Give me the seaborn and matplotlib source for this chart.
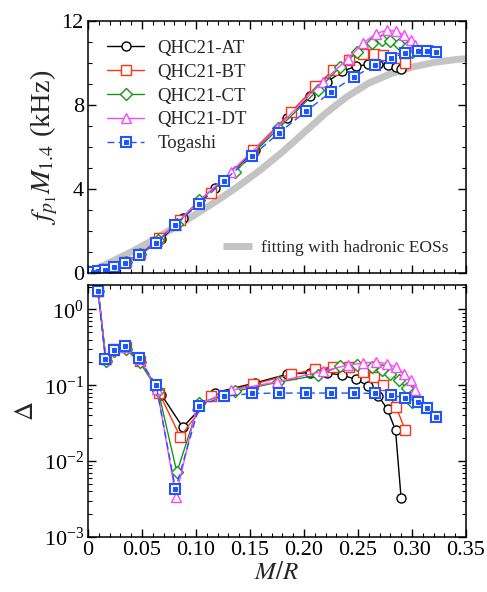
import matplotlib
matplotlib.use('Agg')
import matplotlib.pyplot as plt
from matplotlib.ticker import MultipleLocator, LogLocator, NullFormatter
import seaborn as sns

# --- data ---
# QHC21-AT
at_x = [0.0046, 0.0095, 0.0165, 0.0245, 0.035, 0.048, 0.068, 0.0878, 0.1177, 0.1544,
        0.1846, 0.2053, 0.221, 0.2355, 0.2481, 0.2595, 0.2688, 0.2774, 0.2848, 0.290]
at_f = [0.05, 0.10, 0.17, 0.30, 0.50, 0.88, 1.60, 2.64, 4.05, 5.84,
        7.40, 8.41, 9.08, 9.60, 9.84, 9.93, 9.97, 9.89, 9.81, 9.70]
at_d = [1.73, 0.22, 0.29, 0.32, 0.21, 0.075, 0.028, 0.080, 0.107,
        0.140, 0.147, 0.146, 0.136, 0.120, 0.098, 0.073, 0.048, 0.0255, 0.00325]

# QHC21-BT
bt_x = [0.0046, 0.0095, 0.0165, 0.0245, 0.035, 0.048, 0.0662, 0.0854, 0.1137, 0.153,
        0.188, 0.2105, 0.2271, 0.242, 0.2549, 0.2648, 0.2734, 0.2855, 0.2937]
bt_f = [0.05, 0.10, 0.17, 0.30, 0.52, 0.90, 1.65, 2.51, 3.83, 5.84,
        7.65, 8.89, 9.65, 10.15, 10.41, 10.45, 10.40, 10.25, 10.02]
bt_d = [1.73, 0.225, 0.30, 0.32, 0.21, 0.078, 0.0209, 0.072, 0.103,
        0.139, 0.162, 0.175, 0.172, 0.150, 0.130, 0.102, 0.051, 0.026]

# QHC21-CT
ct_x = [0.0046, 0.0095, 0.0165, 0.0245, 0.035, 0.048, 0.065, 0.0823, 0.1029, 0.136,
        0.1763, 0.2127, 0.2333, 0.2495, 0.2626, 0.2719, 0.2795, 0.2879, 0.2956, 0.3001]
ct_f = [0.04, 0.09, 0.16, 0.30, 0.50, 0.90, 1.55, 2.35, 3.46, 4.81,
        6.88, 8.70, 9.81, 10.52, 10.96, 11.08, 11.05, 10.92, 10.76, 10.50]
ct_d = [1.75, 0.21, 0.28, 0.30, 0.20, 0.085, 0.0071, 0.058, 0.083,
        0.110, 0.136, 0.178, 0.184, 0.174, 0.158, 0.143, 0.116, 0.091, 0.060]

# QHC21-DT
dt_x = [0.0046, 0.0095, 0.0165, 0.0245, 0.035, 0.048, 0.064, 0.0814, 0.101, 0.1325,
        0.175, 0.2173, 0.2404, 0.2549, 0.267, 0.2765, 0.285, 0.2928, 0.299, 0.3033]
dt_f = [0.05, 0.10, 0.17, 0.30, 0.50, 0.90, 1.50, 2.30, 3.35, 4.81,
        6.90, 9.10, 10.19, 10.95, 11.40, 11.56, 11.52, 11.32, 11.08, 10.87]
dt_d = [1.73, 0.22, 0.29, 0.32, 0.22, 0.090, 0.0034, 0.055, 0.086,
        0.111, 0.153, 0.184, 0.197, 0.203, 0.193, 0.175, 0.143, 0.116, 0.086]

# Togashi
tg_x = [0.0046, 0.0093, 0.016, 0.024, 0.034, 0.047, 0.063, 0.081, 0.103, 0.126, 0.152,
        0.177, 0.202, 0.225, 0.246, 0.266, 0.281, 0.294, 0.306, 0.314, 0.322]
tg_f = [0.05, 0.10, 0.16, 0.29, 0.48, 0.84, 1.44, 2.29, 3.30, 4.40, 5.56,
        6.68, 7.70, 8.62, 9.33, 9.90, 10.25, 10.48, 10.57, 10.57, 10.52]
tg_d = [1.73, 0.225, 0.295, 0.327, 0.23, 0.101, 0.0043, 0.053, 0.072, 0.078,
        0.079, 0.079, 0.079, 0.079, 0.078, 0.074, 0.068, 0.060, 0.050, 0.038]

# fitting with hadronic EOSs
fit_x = [0.0, 0.02, 0.04, 0.06, 0.08, 0.10, 0.12, 0.14, 0.16, 0.18, 0.20,
         0.22, 0.24, 0.26, 0.28, 0.30, 0.32, 0.34, 0.35]
fit_f = [0.0, 0.50, 1.00, 1.56, 2.16, 2.80, 3.46, 4.16, 4.92, 5.76, 6.68,
         7.60, 8.40, 9.04, 9.48, 9.80, 10.02, 10.16, 10.20]

sns.set_theme(style='ticks')
plt.rcParams['font.family'] = ['Liberation Serif', 'DejaVu Serif']
plt.rcParams['mathtext.fontset'] = 'stix'
plt.rcParams['axes.linewidth'] = 1.1

fig = plt.figure(figsize=(4.87, 5.92), dpi=100)
ax1 = fig.add_axes([0.1807, 0.5389, 0.776, 0.4257])
ax2 = fig.add_axes([0.1807, 0.0929, 0.776, 0.4257])

styles = [
    ('QHC21-AT', at_x, at_f, at_d, dict(color='black', marker='o', ms=6.5)),
    ('QHC21-BT', bt_x, bt_f, bt_d, dict(color='#ff3311', marker='s', ms=6.8)),
    ('QHC21-CT', ct_x, ct_f, ct_d, dict(color='#119911', marker='D', ms=6.0)),
    ('QHC21-DT', dt_x, dt_f, dt_d, dict(color='#ff44ff', marker='^', ms=7.5)),
]

sns.lineplot(x=fit_x, y=fit_f, ax=ax1, color='#c4c4c4', lw=5, estimator=None,
             sort=False, label='fitting with hadronic EOSs', solid_capstyle='butt')
fit_line = ax1.get_lines()[-1]

handles = []
for name, x, f, d, st in styles:
    kw = dict(color=st['color'], marker=st['marker'], markersize=st['ms'],
              markerfacecolor='white', markeredgecolor=st['color'],
              markeredgewidth=1.0, lw=1.0, linestyle='-')
    sns.lineplot(x=x, y=f, ax=ax1, estimator=None, sort=False, **kw)
    handles.append(ax1.get_lines()[-1])
    sns.lineplot(x=x[1:], y=d, ax=ax2, estimator=None, sort=False, **kw)

# Togashi: open blue square with a filled centre, dashed line
blue = '#1f55ff'
for ax, yy, xx in [(ax1, tg_f, tg_x), (ax2, tg_d, tg_x[1:])]:
    sns.lineplot(x=xx, y=yy, ax=ax, estimator=None, sort=False, color=blue, lw=1.0,
                 linestyle=(0, (5, 3)), marker='s', markersize=7,
                 markerfacecolor='white', markeredgecolor=blue, markeredgewidth=1.5)
    if ax is ax1:
        tg_outer = ax.get_lines()[-1]
    sns.lineplot(x=xx, y=yy, ax=ax, estimator=None, sort=False, color=blue, lw=0,
                 marker='s', markersize=2.8, markerfacecolor=blue, markeredgecolor=blue)
    if ax is ax1:
        tg_inner = ax.get_lines()[-1]

for ax in (ax1, ax2):
    leg = ax.get_legend()
    if leg is not None:
        leg.remove()

leg1 = ax1.legend(handles + [(tg_outer, tg_inner)],
                  ['QHC21-AT', 'QHC21-BT', 'QHC21-CT', 'QHC21-DT', 'Togashi'],
                  loc='upper left', frameon=False, fontsize=13.5, handlelength=2.0,
                  labelspacing=0.36, borderaxespad=0.6, handletextpad=0.7)
ax1.add_artist(leg1)
ax1.legend([fit_line], ['fitting with hadronic EOSs'], loc='lower right',
           frameon=False, fontsize=12.5, handlelength=1.7, handletextpad=0.5,
           borderaxespad=0.6)

# axes formatting
ax1.set_xlim(0, 0.35)
ax1.set_ylim(0, 12)
ax1.xaxis.set_major_locator(MultipleLocator(0.05))
ax1.xaxis.set_minor_locator(MultipleLocator(0.01))
ax1.yaxis.set_major_locator(MultipleLocator(4))
ax1.yaxis.set_minor_locator(MultipleLocator(1))
ax1.tick_params(labelbottom=False)
ax1.set_ylabel(r'$f_{p_1}M_{1.4}$ (kHz)', fontsize=20.5, labelpad=1)

ax2.set_xlim(0, 0.35)
ax2.set_yscale('log')
ax2.set_ylim(1e-3, 2.1)
ax2.xaxis.set_major_locator(MultipleLocator(0.05))
ax2.xaxis.set_minor_locator(MultipleLocator(0.01))
ax2.yaxis.set_major_locator(LogLocator(base=10, numticks=10))
ax2.yaxis.set_minor_locator(LogLocator(base=10, subs=range(2, 10), numticks=10))
ax2.yaxis.set_minor_formatter(NullFormatter())
ax2.set_xticks([0, 0.05, 0.10, 0.15, 0.20, 0.25, 0.30, 0.35])
ax2.set_xticklabels(['0', '0.05', '0.10', '0.15', '0.20', '0.25', '0.30', '0.35'])
ax2.set_xlabel(r'$M/R$', fontsize=18, labelpad=1)
ax2.set_ylabel(r'$\Delta$', fontsize=19, labelpad=4)

for ax in (ax1, ax2):
    ax.tick_params(which='both', direction='in', top=True, right=True,
                   labelsize=16, colors='black')
    ax.tick_params(which='major', length=6, width=1.0, pad=3)
    ax.tick_params(which='minor', length=3, width=0.8)
    for sp in ax.spines.values():
        sp.set_color('black')

fig.savefig('out.png', dpi=100)
